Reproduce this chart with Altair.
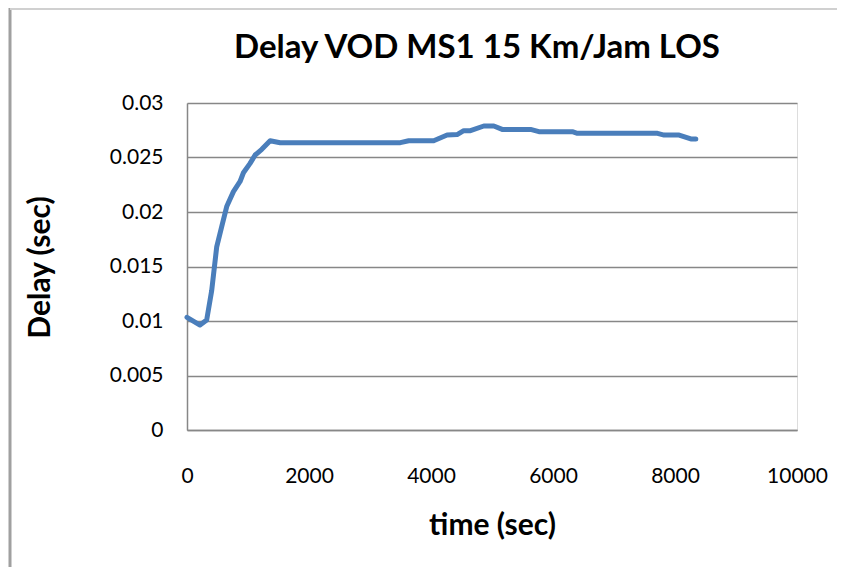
import altair as alt
import pandas as pd

# time (sec) and delay (sec)
time_sec = [0, 213, 323, 405, 487, 569, 651, 761, 870, 925, 1034, 1117, 1226, 1363,
            1527, 2000, 3000, 3498, 3634, 4044, 4264, 4428, 4537, 4647, 4866, 5030,
            5167, 5632, 5769, 6317, 6399, 7713, 7822, 8068, 8259, 8341]
delay_sec = [0.01034, 0.00963, 0.0101, 0.0128, 0.0168, 0.01865, 0.0205, 0.02187, 0.0228,
             0.0236, 0.02446, 0.02523, 0.02575, 0.02654, 0.02636, 0.02636, 0.02636, 0.02636,
             0.02654, 0.02654, 0.02706, 0.0271, 0.02746, 0.02746, 0.02789, 0.02789, 0.02758,
             0.02758, 0.02737, 0.02737, 0.02722, 0.02722, 0.02706, 0.02706, 0.0267, 0.0267]

x_ticks = [0, 2000, 4000, 6000, 8000, 10000]
y_ticks = [0, 0.005, 0.01, 0.015, 0.02, 0.025, 0.03]
chart_title = ["Delay VOD MS1 15 Km/Jam LOS"]

df = pd.DataFrame({"time": time_sec, "delay": delay_sec})

FONT = "Lato"
GRID = "#878787"

line = alt.Chart(df).mark_line(color="#4a7ebb", strokeWidth=5, strokeJoin="round", strokeCap="round").encode(
    x=alt.X("time:Q", scale=alt.Scale(domain=[0, 10000], nice=False),
            axis=alt.Axis(values=x_ticks, format="d", grid=False, ticks=False,
                          labelFlush=False, labelOverlap=False,
                          domainColor=GRID, domainWidth=1.5,
                          labelFont=FONT, labelFontSize=21, labelColor="#000000",
                          labelPadding=35, title="time (sec)", titleFont=FONT,
                          titleFontSize=30, titleFontWeight="bold", titleColor="#000000",
                          titleY=95, titleBaseline="middle")),
    y=alt.Y("delay:Q", scale=alt.Scale(domain=[0, 0.03], nice=False),
            axis=alt.Axis(values=y_ticks, format=".3~f", grid=True, gridColor=GRID,
                          gridWidth=1.5, gridOpacity=1, ticks=False,
                          labelFlush=False, labelOverlap=False,
                          domainColor=GRID, domainWidth=1.5,
                          labelFont=FONT, labelFontSize=21, labelColor="#000000",
                          labelPadding=24, title="Delay (sec)", titleFont=FONT,
                          titleFontSize=30, titleFontWeight="bold", titleColor="#000000",
                          titleX=-147, titleY=164, titleAngle=-90, titleBaseline="middle")),
)

# chart title as a text placed above the plot area
title = alt.Chart(pd.DataFrame({"t": chart_title})).mark_text(
    font=FONT, fontSize=33, fontWeight="bold", color="#000000",
    align="center", baseline="middle").encode(
    text="t:N", x=alt.value(290), y=alt.value(-55))

# outer chart frame (left and top edges, as in the reference)
frame_left = alt.Chart(pd.DataFrame({"k": [0]})).mark_rule(color="#a0a0a0", strokeWidth=3).encode(
    x=alt.value(-177), y=alt.value(-100), y2=alt.value(480))
frame_top = alt.Chart(pd.DataFrame({"k": [0]})).mark_rule(color="#d0d0d0", strokeWidth=2).encode(
    x=alt.value(-177), x2=alt.value(660), y=alt.value(-94))

chart = alt.layer(frame_left, frame_top, line, title).properties(
    width=610, height=327,
    padding={"left": 179, "top": 95, "right": 40, "bottom": 137},
    autosize=alt.AutoSizeParams(type="none"),
).configure_view(stroke=None).configure(background="white")

chart.save("out.html", embed_options={"renderer": "svg", "actions": False})
